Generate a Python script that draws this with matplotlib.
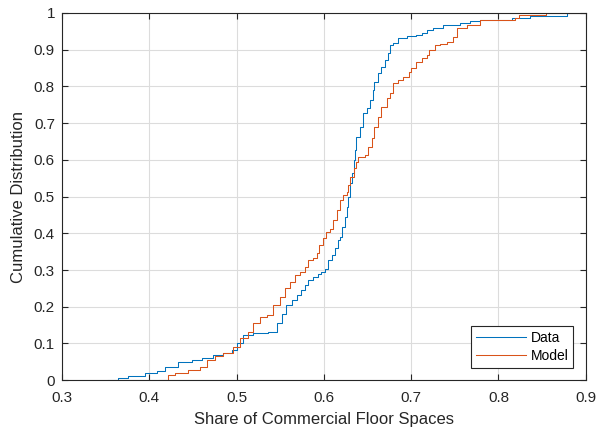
import matplotlib
matplotlib.use("Agg")
import matplotlib.pyplot as plt

plt.rcParams["font.family"] = ["Liberation Sans", "DejaVu Sans"]

# step knots (x = share, y = cumulative level after the step)
data_x = [0.353, 0.364, 0.376, 0.395, 0.409, 0.418, 0.433, 0.449, 0.461, 0.473,
          0.484, 0.495, 0.500, 0.507, 0.519, 0.536, 0.546, 0.552, 0.557, 0.563,
          0.569, 0.574, 0.578, 0.582, 0.588, 0.593, 0.597, 0.601, 0.605, 0.609,
          0.613, 0.616, 0.619, 0.621, 0.624, 0.626, 0.628, 0.630, 0.632, 0.634,
          0.636, 0.637, 0.641, 0.645, 0.649, 0.653, 0.656, 0.658, 0.662, 0.666,
          0.670, 0.674, 0.676, 0.679, 0.685, 0.695, 0.706, 0.712, 0.718, 0.725,
          0.736, 0.756, 0.767, 0.779, 0.816, 0.836, 0.878]
data_y = [0.000, 0.005, 0.010, 0.020, 0.025, 0.036, 0.050, 0.055, 0.060, 0.068,
          0.074, 0.082, 0.100, 0.122, 0.128, 0.132, 0.155, 0.180, 0.204, 0.218,
          0.232, 0.245, 0.259, 0.272, 0.281, 0.290, 0.295, 0.304, 0.327, 0.340,
          0.359, 0.381, 0.390, 0.418, 0.445, 0.472, 0.500, 0.536, 0.563, 0.600,
          0.627, 0.663, 0.690, 0.727, 0.740, 0.763, 0.790, 0.813, 0.836, 0.854,
          0.872, 0.890, 0.913, 0.918, 0.931, 0.937, 0.940, 0.946, 0.954, 0.958,
          0.967, 0.973, 0.978, 0.981, 0.986, 0.992, 1.000]

model_x = [0.411, 0.421, 0.429, 0.444, 0.458, 0.466, 0.475, 0.484, 0.496, 0.504,
           0.513, 0.519, 0.527, 0.535, 0.542, 0.550, 0.555, 0.561, 0.567, 0.573,
           0.578, 0.582, 0.588, 0.592, 0.595, 0.599, 0.603, 0.607, 0.611, 0.615,
           0.618, 0.622, 0.626, 0.628, 0.630, 0.634, 0.637, 0.639, 0.647, 0.651,
           0.655, 0.658, 0.662, 0.666, 0.672, 0.676, 0.679, 0.685, 0.691, 0.697,
           0.700, 0.706, 0.712, 0.718, 0.721, 0.727, 0.733, 0.741, 0.748, 0.753,
           0.764, 0.779, 0.819, 0.824, 0.855]
model_y = [0.000, 0.014, 0.020, 0.027, 0.036, 0.055, 0.065, 0.074, 0.090, 0.114,
           0.132, 0.155, 0.173, 0.177, 0.204, 0.227, 0.250, 0.268, 0.286, 0.295,
           0.309, 0.327, 0.332, 0.345, 0.368, 0.386, 0.404, 0.413, 0.436, 0.463,
           0.490, 0.504, 0.513, 0.531, 0.554, 0.577, 0.595, 0.608, 0.613, 0.636,
           0.659, 0.690, 0.717, 0.745, 0.768, 0.781, 0.808, 0.817, 0.826, 0.840,
           0.849, 0.867, 0.876, 0.886, 0.899, 0.913, 0.916, 0.921, 0.935, 0.959,
           0.967, 0.981, 0.986, 0.995, 1.000]

x_ticks = [0.3, 0.4, 0.5, 0.6, 0.7, 0.8, 0.9]
y_ticks = [0, 0.1, 0.2, 0.3, 0.4, 0.5, 0.6, 0.7, 0.8, 0.9, 1]

fig = plt.figure(figsize=(6.07, 4.32), dpi=100)
ax = fig.add_axes([0.102, 0.120, 0.863, 0.850])

ax.step(data_x + [0.9], data_y + [1.0], where="post", color="#0072BD", lw=0.75, label="Data")
ax.step(model_x + [0.9], model_y + [1.0], where="post", color="#D95319", lw=0.75, label="Model")

ax.set_xlim(0.3, 0.9)
ax.set_ylim(0, 1)
ax.set_xticks(x_ticks)
ax.set_xticklabels([f"{v:g}" for v in x_ticks])
ax.set_yticks(y_ticks)
ax.set_yticklabels([f"{v:g}" for v in y_ticks])
ax.grid(True, color="#DCDCDC", lw=0.8)
ax.set_axisbelow(True)
ax.tick_params(direction="in", length=4, width=0.8, colors="#262626", labelsize=11,
               top=True, right=True)
ax.tick_params(axis="x", pad=8)
ax.tick_params(axis="y", pad=5)
for s in ax.spines.values():
    s.set_color("#262626")
    s.set_linewidth(0.8)

ax.set_xlabel("Share of Commercial Floor Spaces", fontsize=12, color="#262626", labelpad=5)
ax.set_ylabel("Cumulative Distribution", fontsize=12, color="#262626", labelpad=6)

leg = ax.legend(loc="lower right", fontsize=10, fancybox=False, edgecolor="#262626",
                framealpha=1, handlelength=3.6, borderaxespad=0.9, borderpad=0.35,
                labelspacing=0.3, handletextpad=0.3)
leg.get_frame().set_linewidth(0.8)

fig.savefig("out.png", dpi=100)
